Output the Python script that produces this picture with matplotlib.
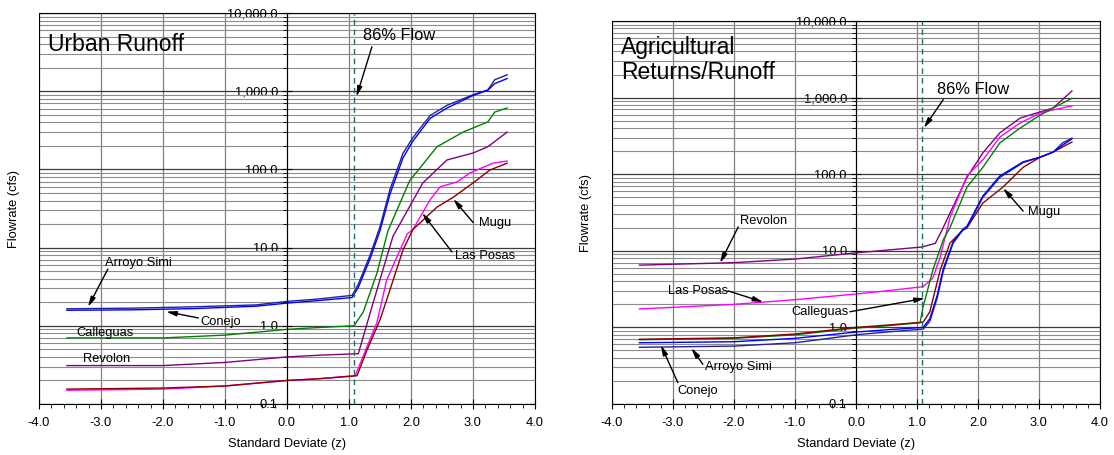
import matplotlib
matplotlib.use("Agg")
from matplotlib import pyplot as plt
from matplotlib.ticker import LogLocator, FixedLocator, NullFormatter
import numpy as np

plt.rcParams['font.family'] = ['Liberation Sans', 'DejaVu Sans']

# ---- Urban Runoff (left) ----
u_simi_z = [-3.55, -2.5, -1.5, -0.5, 0.0, 0.5, 1.05, 1.15, 1.34, 1.5, 1.66, 1.87, 2.03, 2.31, 2.58, 3.0, 3.24, 3.35, 3.55]
u_simi_q = [1.65, 1.68, 1.75, 1.85, 2.05, 2.2, 2.45, 3.4, 8.0, 18.5, 55, 160, 255, 490, 660, 900, 1040, 1400, 1620]
u_conejo_z = u_simi_z
u_conejo_q = [1.58, 1.60, 1.66, 1.78, 1.95, 2.1, 2.3, 3.1, 7.2, 16.5, 48, 140, 230, 450, 610, 880, 1030, 1250, 1450]
u_call_z = [-3.55, -2.0, -1.0, 0.0, 0.5, 1.08, 1.23, 1.45, 1.63, 1.98, 2.42, 2.84, 3.24, 3.35, 3.55]
u_call_q = [0.70, 0.70, 0.76, 0.90, 0.95, 1.0, 1.5, 4.7, 16.5, 72, 195, 300, 405, 540, 610]
u_rev_z = [-3.55, -2.0, -1.0, 0.0, 0.5, 1.15, 1.34, 1.5, 1.71, 1.77, 2.19, 2.58, 3.0, 3.24, 3.55]
u_rev_q = [0.31, 0.31, 0.34, 0.40, 0.42, 0.44, 1.45, 3.9, 14, 17, 67, 132, 162, 195, 300]
u_lp_z = [-3.55, -2.0, -1.0, 0.0, 0.5, 1.1, 1.45, 1.61, 1.94, 2.03, 2.31, 2.47, 2.74, 2.95, 3.32, 3.55]
u_lp_q = [0.15, 0.155, 0.17, 0.20, 0.21, 0.23, 1.1, 3.9, 15, 17, 41, 60, 69, 90, 120, 128]
u_mugu_z = [-3.55, -2.0, -1.0, 0.0, 0.5, 1.13, 1.29, 1.5, 1.66, 1.87, 2.03, 2.42, 2.68, 3.0, 3.27, 3.55]
u_mugu_q = [0.155, 0.16, 0.17, 0.20, 0.21, 0.23, 0.49, 1.19, 2.87, 9.3, 17, 33, 44, 67, 98, 120]

# ---- Agricultural Returns/Runoff (right) ----
a_rev_z = [-3.55, -2.0, -1.0, 0.0, 0.5, 1.08, 1.3, 1.41, 1.54, 1.82, 2.08, 2.36, 2.69, 3.02, 3.23, 3.54]
a_rev_q = [6.5, 7.0, 7.8, 9.4, 10.2, 11.2, 12.5, 18.6, 31, 91, 190, 348, 540, 650, 730, 1220]
a_lp_z = [-3.55, -2.0, -1.0, 0.0, 0.5, 1.1, 1.26, 1.38, 1.49, 1.54, 1.82, 2.08, 2.36, 2.69, 3.02, 3.23, 3.54]
a_lp_q = [1.74, 2.0, 2.3, 2.73, 3.0, 3.4, 4.4, 8.3, 18.6, 27, 95, 154, 306, 466, 630, 690, 780]
a_call_z = [-3.55, -2.0, -1.0, 0.0, 0.5, 1.05, 1.1, 1.26, 1.43, 1.54, 1.82, 2.08, 2.36, 2.69, 3.02, 3.23, 3.54]
a_call_q = [0.69, 0.72, 0.80, 0.98, 1.05, 1.15, 1.86, 5.6, 13.9, 20, 68, 123, 257, 400, 590, 730, 980]
a_mugu_z = [-3.55, -2.0, -1.0, 0.0, 0.5, 1.1, 1.21, 1.38, 1.54, 1.75, 1.82, 2.08, 2.41, 2.74, 3.02, 3.23, 3.54]
a_mugu_q = [0.70, 0.73, 0.82, 1.0, 1.07, 1.17, 1.6, 5.6, 12.6, 18.6, 20, 42, 68, 123, 167, 194, 263]
a_simi_z = [-3.55, -2.0, -1.0, 0.0, 0.5, 1.1, 1.21, 1.33, 1.43, 1.59, 1.75, 1.82, 2.08, 2.36, 2.74, 3.02, 3.23, 3.39, 3.54]
a_simi_q = [0.55, 0.57, 0.63, 0.80, 0.87, 0.95, 1.2, 2.4, 5.4, 12.5, 18.6, 20, 50, 91, 142, 167, 194, 257, 295]
a_conejo_z = a_simi_z
a_conejo_q = [0.63, 0.65, 0.72, 0.87, 0.93, 1.0, 1.3, 2.6, 5.8, 13, 19, 21, 52, 95, 145, 167, 194, 240, 290]

flow86 = 1.08
xticks = [-4, -3, -2, -1, 0, 1, 2, 3, 4]
xtick_labels = ['-4.0', '-3.0', '-2.0', '-1.0', '0.0', '1.0', '2.0', '3.0', '4.0']
yticks = [0.1, 1, 10, 100, 1000, 10000]
ytick_labels = ['0.1', '1.0', '10.0', '100.0', '1,000.0', '10,000.0']

c_simi = '#22229a'
c_conejo = '#0000ff'
c_call = '#008000'
c_rev = '#800080'
c_lp = '#ff00ff'
c_mugu = '#8b0000'

FS = 9.3
ARROW = dict(arrowstyle='-|>,head_width=0.15,head_length=0.6',
             color='black', lw=1, shrinkA=0, shrinkB=0)

fig = plt.figure(figsize=(11.14, 4.55), dpi=100)
ax1 = fig.add_axes([39/1114, 51/455, 496/1114, 391/455])
ax2 = fig.add_axes([612/1114, 51/455, 488/1114, 383/455])


def setup(ax):
    ax.set_yscale('log')
    ax.set_xlim(-4, 4)
    ax.set_ylim(0.1, 10000)
    ax.spines['left'].set_position(('data', 0))
    ax.spines['left'].set_zorder(4)
    ax.set_xticks(xticks)
    ax.set_xticklabels(xtick_labels, fontsize=FS)
    ax.xaxis.set_minor_locator(FixedLocator(np.arange(-4, 4.01, 0.2)))
    ax.yaxis.set_major_locator(FixedLocator(yticks))
    ax.set_yticklabels(ytick_labels, fontsize=FS)
    ax.yaxis.set_minor_locator(LogLocator(base=10, subs=range(2, 10)))
    ax.yaxis.set_minor_formatter(NullFormatter())
    ax.tick_params(axis='x', which='major', direction='inout', length=7, pad=6)
    ax.tick_params(axis='x', which='minor', direction='out', length=3)
    ax.tick_params(axis='y', which='major', direction='inout', length=7, pad=3)
    ax.tick_params(axis='y', which='minor', direction='out', length=3)
    ax.grid(True, which='major', axis='y', color='#3a3a3a', lw=0.9)
    ax.grid(True, which='minor', axis='y', color='#8c8c8c', lw=0.8)
    ax.grid(True, which='major', axis='x', color='#808080', lw=0.9)
    ax.axvline(-4, color='black', lw=1.5, zorder=4)
    ax.axvline(flow86, color='#1f6a6a', lw=1, ls=(0, (4, 3)), zorder=3)
    ax.set_xlabel('Standard Deviate (z)', fontsize=FS, labelpad=6)
    ax.set_ylabel('Flowrate (cfs)', fontsize=FS)
    ax.set_axisbelow(True)


setup(ax1)
ax1.plot(u_simi_z, u_simi_q, color=c_simi, lw=1)
ax1.plot(u_conejo_z, u_conejo_q, color=c_conejo, lw=1)
ax1.plot(u_call_z, u_call_q, color=c_call, lw=1)
ax1.plot(u_rev_z, u_rev_q, color=c_rev, lw=1)
ax1.plot(u_lp_z, u_lp_q, color=c_lp, lw=1)
ax1.plot(u_mugu_z, u_mugu_q, color=c_mugu, lw=1)
ax1.yaxis.set_label_coords(-0.038, 0.5)
ax1.text(-3.85, 3900, 'Urban Runoff', fontsize=16.5, va='center', ha='left')
ax1.text(1.23, 5200, '86% Flow', fontsize=11.8, va='center', ha='left')
ax1.annotate('', xy=(1.12, 850), xytext=(1.37, 3700), arrowprops=ARROW)
ax1.text(-2.94, 6.3, 'Arroyo Simi', fontsize=FS, va='center')
ax1.annotate('', xy=(-3.21, 1.74), xytext=(-2.89, 5.3), arrowprops=ARROW)
ax1.text(-1.40, 1.12, 'Conejo', fontsize=FS, va='center')
ax1.annotate('', xy=(-1.95, 1.52), xytext=(-1.43, 1.26), arrowprops=ARROW)
ax1.text(-3.39, 0.81, 'Calleguas', fontsize=FS, va='center')
ax1.text(-3.29, 0.38, 'Revolon', fontsize=FS, va='center')
ax1.text(3.10, 20.4, 'Mugu', fontsize=FS, va='center')
ax1.annotate('', xy=(2.68, 42), xytext=(3.0, 21), arrowprops=ARROW)
ax1.text(2.71, 7.8, 'Las Posas', fontsize=FS, va='center')
ax1.annotate('', xy=(2.18, 27.8), xytext=(2.66, 8.8), arrowprops=ARROW)

setup(ax2)
ax2.plot(a_rev_z, a_rev_q, color=c_rev, lw=1)
ax2.plot(a_lp_z, a_lp_q, color=c_lp, lw=1)
ax2.plot(a_call_z, a_call_q, color=c_call, lw=1)
ax2.plot(a_mugu_z, a_mugu_q, color=c_mugu, lw=1)
ax2.plot(a_simi_z, a_simi_q, color=c_simi, lw=1)
ax2.plot(a_conejo_z, a_conejo_q, color=c_conejo, lw=1)
ax2.yaxis.set_label_coords(-0.041, 0.5)
ax2.text(-3.85, 3100, 'Agricultural\nReturns/Runoff', fontsize=16.5, va='center', ha='left',
         linespacing=1.15)
ax2.text(1.33, 1260, '86% Flow', fontsize=11.8, va='center', ha='left')
ax2.annotate('', xy=(1.11, 400), xytext=(1.43, 940), arrowprops=ARROW)
ax2.text(-1.90, 24.5, 'Revolon', fontsize=FS, va='center')
ax2.annotate('', xy=(-2.23, 6.9), xytext=(-1.93, 20.5), arrowprops=ARROW)
ax2.text(-3.08, 3.0, 'Las Posas', fontsize=FS, va='center')
ax2.annotate('', xy=(-1.52, 2.14), xytext=(-2.10, 3.0), arrowprops=ARROW)
ax2.text(-0.12, 1.6, 'Calleguas', fontsize=FS, va='center', ha='right')
ax2.annotate('', xy=(1.13, 2.4), xytext=(-0.1, 1.6), arrowprops=ARROW)
ax2.text(-2.48, 0.30, 'Arroyo Simi', fontsize=FS, va='center')
ax2.annotate('', xy=(-2.70, 0.54), xytext=(-2.51, 0.33), arrowprops=ARROW)
ax2.text(-2.93, 0.15, 'Conejo', fontsize=FS, va='center')
ax2.annotate('', xy=(-3.20, 0.59), xytext=(-2.92, 0.19), arrowprops=ARROW)
ax2.text(2.82, 32, 'Mugu', fontsize=FS, va='center')
ax2.annotate('', xy=(2.41, 66), xytext=(2.74, 33), arrowprops=ARROW)

fig.savefig('out.png', dpi=100)
